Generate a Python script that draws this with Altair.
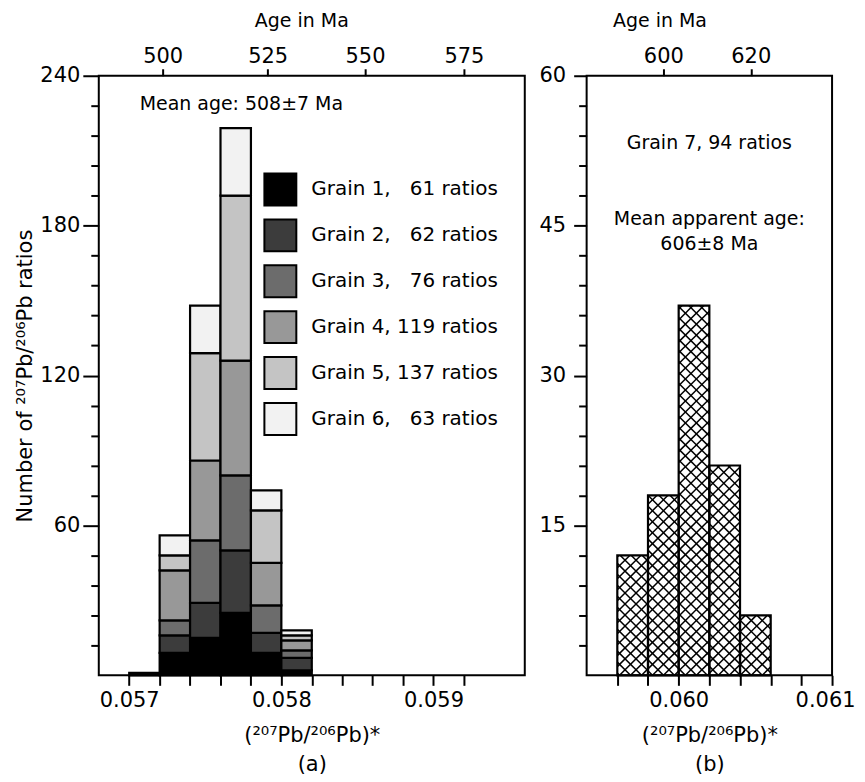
import json
import altair as alt
import pandas as pd

FONT = "DejaVu Sans"

# ---------------- data: panel (a) ----------------
bin_start_a = [0.0570, 0.0572, 0.0574, 0.0576, 0.0578, 0.0580]
bin_end_a = [0.0572, 0.0574, 0.0576, 0.0578, 0.0580, 0.0582]
grain_names = ["Grain 1,", "Grain 2,", "Grain 3,", "Grain 4,", "Grain 5,", "Grain 6,"]
grain_ratio_counts = [61, 62, 76, 119, 137, 63]
grain1 = [1, 9, 15, 25, 9, 2]
grain2 = [0, 7, 14, 25, 8, 5]
grain3 = [0, 6, 25, 30, 11, 3]
grain4 = [0, 20, 32, 46, 17, 4]
grain5 = [0, 6, 43, 66, 21, 2]
grain6 = [0, 8, 19, 27, 8, 2]
grain_fills = ["#000000", "#3c3c3c", "#6c6c6c", "#989898", "#c4c4c4", "#f2f2f2"]

# ---------------- data: panel (b) ----------------
bin_start_b = [0.0596, 0.0598, 0.0600, 0.0602, 0.0604]
bin_end_b = [0.0598, 0.0600, 0.0602, 0.0604, 0.0606]
grain7 = [12, 18, 37, 21, 6]

# ---------------- axes ----------------
x_domain_a = [0.0568, 0.0596]
x_ticks_a = [0.0570, 0.0572, 0.0574, 0.0576, 0.0578, 0.0580, 0.0582, 0.0584,
             0.0586, 0.0588, 0.0590, 0.0592]
x_domain_b = [0.0594, 0.0610]
x_ticks_b = [0.0596, 0.0598, 0.0600, 0.0602, 0.0604, 0.0606, 0.0608, 0.0610]
y_domain_a = [0, 240]
y_ticks_a = [12, 24, 36, 48, 60, 72, 84, 96, 108, 120, 132, 144, 156, 168, 180,
             192, 204, 216, 228, 240]
y_domain_b = [0, 60]
y_ticks_b = [3, 6, 9, 12, 15, 18, 21, 24, 27, 30, 33, 36, 39, 42, 45, 48, 51, 54, 57, 60]
age_labels_a = ["500", "525", "550", "575"]
age_ratio_a = [0.05722, 0.05791, 0.05855, 0.05920]
age_labels_b = ["600", "620"]
age_ratio_b = [0.05990, 0.06047]

x_title = "(²⁰⁷Pb/²⁰⁶Pb)*"
y_title = "Number of ²⁰⁷Pb/²⁰⁶Pb ratios"
mean_age_a = "Mean age: 508±7 Ma"
grain7_text = "Grain 7, 94 ratios"
mean_age_b1 = "Mean apparent age:"
mean_age_b2 = "606±8 Ma"

W_A, W_B, H = 427, 246, 601

# ---------------- build tables ----------------
legend_labels = []
for name, n in zip(grain_names, grain_ratio_counts):
    pad = " " + "\u2007" * (3 - len(str(n)))
    legend_labels.append(f"{name}{pad}{n} ratios")

series = [grain1, grain2, grain3, grain4, grain5, grain6]
rows = []
for i, (s, e) in enumerate(zip(bin_start_a, bin_end_a)):
    base = 0
    for j, counts in enumerate(series):
        c = counts[i]
        if c > 0:
            rows.append(dict(x0=s, x1=e, y0=base, y1=base + c, grain=legend_labels[j]))
        base += c
df_a = pd.DataFrame(rows)

df_b = pd.DataFrame({"x0": bin_start_b, "x1": bin_end_b,
                     "y0": [0] * len(grain7), "n": grain7})

# cross-hatch segments derived from the bars of panel (b)
sx = W_B / (x_domain_b[1] - x_domain_b[0])
sy = H / (y_domain_b[1] - y_domain_b[0])
period = 11.0
hatch = []
for s, e, n in zip(bin_start_b, bin_end_b, grain7):
    X0 = (s - x_domain_b[0]) * sx
    X1 = (e - x_domain_b[0]) * sx
    T = n * sy
    k0 = int((X0 - T) // period) - 1
    k1 = int((X1 + T) // period) + 2
    for k in range(k0, k1):
        c = k * period
        a, b = max(X0, c), min(X1, c + T)          # rising: y = x - c
        if b - a > 0.5:
            hatch.append((a, a - c, b, b - c))
        a, b = max(X0, c - T), min(X1, c)          # falling: y = c - x
        if b - a > 0.5:
            hatch.append((a, c - a, b, c - b))
df_h = pd.DataFrame([
    dict(hx0=x_domain_b[0] + a / sx, hy0=ya / sy, hx1=x_domain_b[0] + b / sx, hy1=yb / sy)
    for a, ya, b, yb in hatch
])

# ---------------- scales ----------------
xs_a = alt.Scale(domain=x_domain_a, nice=False, zero=False)
ys_a = alt.Scale(domain=y_domain_a, nice=False, zero=False)
xs_b = alt.Scale(domain=x_domain_b, nice=False, zero=False)
ys_b = alt.Scale(domain=y_domain_b, nice=False, zero=False)

bottom_label_expr = ("abs(datum.value*1000 - round(datum.value*1000)) < 0.001 ? "
                     "format(datum.value, '.3f') : ''")


def bottom_axis(values, tag, last_shift=0):
    kw = {}
    if last_shift:
        kw["labelOffset"] = {"condition": {"test": "datum.value > 0.06095", "value": last_shift},
                             "value": 0}
    return alt.Axis(values=values, labelExpr=bottom_label_expr, title=[x_title, tag],
                    titleLineHeight=29, titleFontSize=21, tickSize=10, labelPadding=4,
                    titlePadding=14, labelOverlap=False, labelFlush=False, **kw)


def top_axis(values, labels, title_x):
    expr = json.dumps(labels) + f"[round(datum.index*{len(labels) - 1})]"
    return alt.Axis(orient="top", values=values, labelExpr=expr, title="Age in Ma",
                    titleX=title_x, titleY=-55, titleAlign="center", titleBaseline="middle",
                    tickSize=7, labelPadding=2, labelOverlap=False, labelFlush=False)


def label_text(text, x, y, align="center"):
    return alt.Chart(pd.DataFrame({"t": [text]})).mark_text(
        align=align, baseline="middle", font=FONT, fontSize=19, color="black"
    ).encode(x=alt.value(x), y=alt.value(y), text="t:N")


# ---------------- panel (a) ----------------
bars_a = alt.Chart(df_a).mark_bar(stroke="black", strokeWidth=2.2).encode(
    x=alt.X("x0:Q", scale=xs_a, axis=bottom_axis(x_ticks_a, "(a)")),
    x2="x1:Q",
    y=alt.Y("y0:Q", scale=ys_a, axis=alt.Axis(
        values=y_ticks_a, title=y_title, titleFontSize=21,
        labelExpr="datum.value % 60 === 0 ? datum.label : ''",
        tickSize={"condition": {"test": "datum.value % 60 === 0", "value": 16}, "value": 8},
        labelPadding=3, titlePadding=4, labelOverlap=False)),
    y2="y1:Q",
    color=alt.Color("grain:N", scale=alt.Scale(domain=legend_labels, range=grain_fills),
                    legend=alt.Legend(title=None, orient="none", legendX=165, legendY=97,
                                      symbolType="square", symbolSize=1024,
                                      symbolStrokeColor="black", symbolStrokeWidth=2,
                                      symbolOpacity=1, labelFont=FONT, labelFontSize=20,
                                      labelColor="black", labelOffset=14, rowPadding=6,
                                      labelLimit=400)),
)

top_a = alt.Chart(pd.DataFrame({"pos": age_ratio_a})).mark_point(opacity=0).encode(
    x=alt.X("pos:Q", scale=xs_a, axis=top_axis(age_ratio_a, age_labels_a, 203)),
)

panel_a = alt.layer(
    bars_a, top_a, label_text(mean_age_a, 41, 28, "left")
).resolve_axis(x="independent").properties(width=W_A, height=H)

# ---------------- panel (b) ----------------
hatch_b = alt.Chart(df_h).mark_rule(stroke="black", strokeWidth=1.5).encode(
    x=alt.X("hx0:Q", scale=xs_b, axis=None),
    x2="hx1:Q",
    y=alt.Y("hy0:Q", scale=ys_b, axis=None),
    y2="hy1:Q",
)

outline_b = alt.Chart(df_b).mark_bar(fillOpacity=0, stroke="black", strokeWidth=2.2).encode(
    x=alt.X("x0:Q", scale=xs_b, axis=bottom_axis(x_ticks_b, "(b)", -7)),
    x2="x1:Q",
    y=alt.Y("y0:Q", scale=ys_b, axis=alt.Axis(
        values=y_ticks_b, title=None,
        labelExpr="datum.value % 15 === 0 ? datum.label : ''",
        tickSize={"condition": {"test": "datum.value % 15 === 0", "value": 13}, "value": 8},
        labelPadding=8, labelOverlap=False)),
    y2="n:Q",
)

top_b = alt.Chart(pd.DataFrame({"pos": age_ratio_b})).mark_point(opacity=0).encode(
    x=alt.X("pos:Q", scale=xs_b, axis=top_axis(age_ratio_b, age_labels_b, 73)),
)

panel_b = alt.layer(
    hatch_b, outline_b, top_b,
    label_text(grain7_text, 123, 67),
    label_text(mean_age_b1, 123, 144),
    label_text(mean_age_b2, 123, 169),
).resolve_axis(x="independent", y="independent").properties(width=W_B, height=H)

chart = alt.hconcat(panel_a, panel_b, spacing=12).configure_view(
    stroke="black", strokeWidth=2
).configure_axis(
    labelFont=FONT, labelFontSize=21, labelColor="black",
    titleFont=FONT, titleFontSize=19, titleFontWeight="normal", titleColor="black",
    tickColor="black", tickWidth=2, domain=False, grid=False,
).properties(padding={"left": 5, "top": 2, "right": 0, "bottom": 0})

chart.save("out.html", embed_options={"renderer": "svg", "actions": False})
